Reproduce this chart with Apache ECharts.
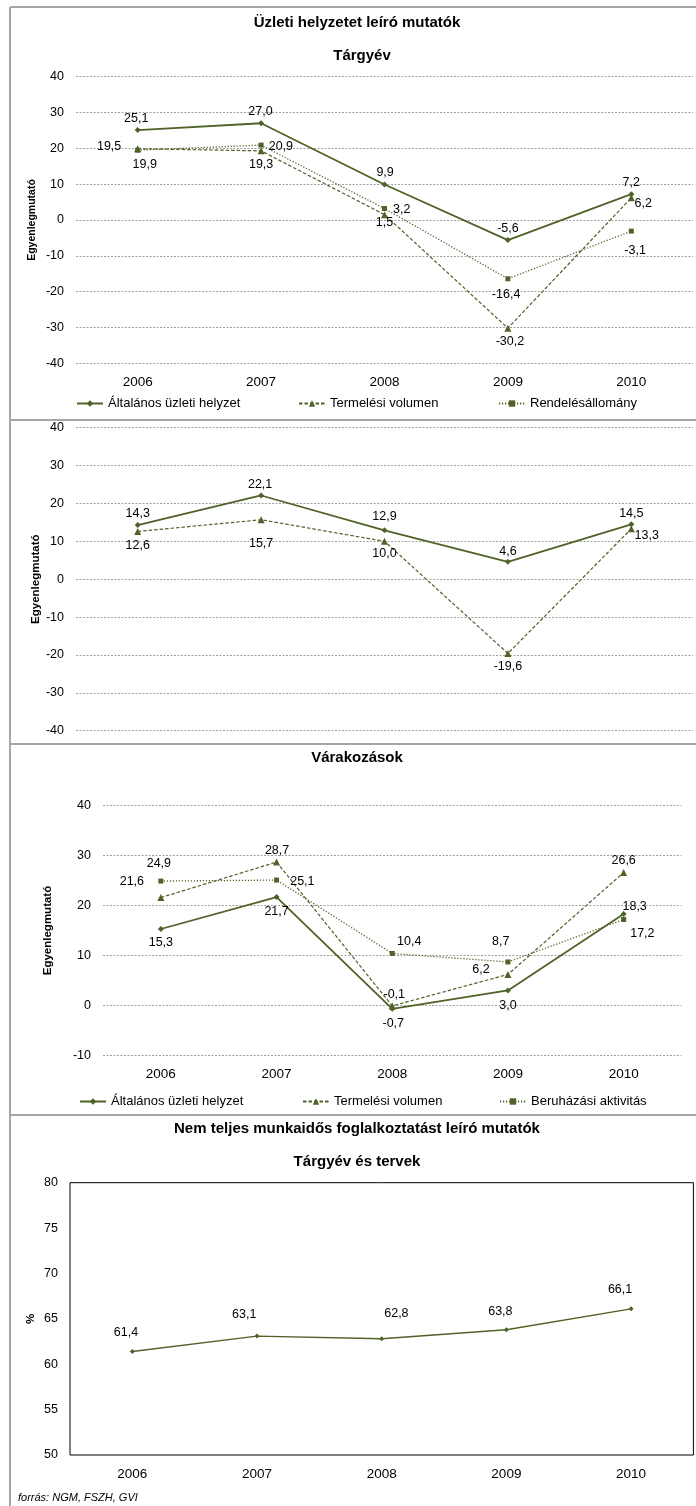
<!DOCTYPE html>
<html><head><meta charset="utf-8">
<script src="https://cdn.jsdelivr.net/npm/echarts@6/dist/echarts.min.js"></script>
<style>html,body{margin:0;padding:0;background:#fff}#c{width:696px;height:1506px}</style>
</head><body><div id="c"></div>
<script>
// ---------- data ----------
const categories = ['2006', '2007', '2008', '2009', '2010'];
const namesCurrent = ['Általános üzleti helyzet', 'Termelési volumen', 'Rendelésállomány'];
const namesExpect = ['Általános üzleti helyzet', 'Termelési volumen', 'Beruházási aktivitás'];
const shareName = 'Nem teljes munkaidős foglalkoztatás';

const currentGeneral = [25.1, 27.0, 9.9, -5.6, 7.2];
const currentProduction = [19.9, 19.3, 1.5, -30.2, 6.2];
const currentOrders = [19.5, 20.9, 3.2, -16.4, -3.1];

const secondGeneral = [14.3, 22.1, 12.9, 4.6, 14.5];
const secondProduction = [12.6, 15.7, 10.0, -19.6, 13.3];

const expectGeneral = [15.3, 21.7, -0.7, 3.0, 18.3];
const expectProduction = [21.6, 28.7, -0.1, 6.2, 26.6];
const expectInvestment = [24.9, 25.1, 10.4, 8.7, 17.2];

const partTimeShare = [61.4, 63.1, 62.8, 63.8, 66.1];

const ticksTop = [-40, -30, -20, -10, 0, 10, 20, 30, 40];
const ticksExpect = [-10, 0, 10, 20, 30, 40];
const ticksShare = [50, 55, 60, 65, 70, 75, 80];

// ---------- label placement (style, offsets from point in px) ----------
const offCurGen = [[-1.5, -12], [-0.6, -11.5], [0.6, -11.5], [0, -12], [0, -11.5]];
const offCurProd = [[7, 15.5], [0, 13.4], [0, 7.5], [2, 13.5], [12, 6]];
const offCurOrd = [[-28.6, -3.4], [19.8, 1.6], [17.3, 1.5], [-1.8, 16.2], [3.8, 19.6]];
const off2Gen = [[0, -11.6], [-1, -11.4], [0, -13.5], [0, -10], [0, -11]];
const off2Prod = [[0, 13.7], [0, 23.7], [0, 12], [0, 13], [15.4, 7]];
const offExpGen = [[0, 13.3], [0, 14.7], [1, 14.5], [0, 14.7], [11, -7.3]];
const offExpProd = [[-29, -15.8], [0.5, -12], [2, -11.8], [-27, -4.4], [0, -11.6]];
const offExpInv = [[-2, -17.8], [25.8, 1.6], [17, -11.7], [-7.2, -20.2], [18.7, 13.8]];
const offShare = [[-6.4, -18.8], [-12.8, -21.8], [14.7, -25.5], [-6, -18], [-11, -19]];

const FONT = 'Liberation Sans, Arial, sans-serif';
const GREEN = '#4f6228';
const fmt = v => v.toFixed(1).replace('.', ',');

const styles = {
  solid: { symbol: 'diamond', symbolSize: 6, lineStyle: { color: GREEN, width: 1.8, type: 'solid' } },
  dashed: { symbol: 'triangle', symbolSize: 7, lineStyle: { color: GREEN, width: 1.2, type: [3.5, 2] } },
  dotted: { symbol: 'rect', symbolSize: 5, lineStyle: { color: GREEN, width: 1.3, type: [1.2, 1.8] } },
  thin: { symbol: 'diamond', symbolSize: 5, lineStyle: { color: GREEN, width: 1.4, type: 'solid' } }
};

function makeSeries(name, values, idx, styleKey, offsets) {
  const st = styles[styleKey];
  return {
    type: 'line', name, xAxisIndex: idx, yAxisIndex: idx,
    symbol: st.symbol, symbolSize: st.symbolSize, showAllSymbol: true,
    lineStyle: st.lineStyle,
    itemStyle: { color: GREEN, borderWidth: 0 },
    emphasis: { disabled: true },
    label: {
      show: true, position: 'inside', color: '#000', fontSize: 12.5, fontFamily: FONT,
      formatter: p => fmt(p.value)
    },
    data: values.map((v, i) => ({ value: v, label: { offset: offsets[i] } })),
    z: 3
  };
}

function valueAxis(idx, ticks, name, nameGap, nameSize, showSplit) {
  return {
    gridIndex: idx, type: 'value',
    min: ticks[0], max: ticks[ticks.length - 1], interval: ticks[1] - ticks[0],
    axisLine: { show: false }, axisTick: { show: false },
    splitLine: { show: showSplit, lineStyle: { color: '#a0a0a0', width: 1, type: [2, 1.5] } },
    axisLabel: { color: '#000', fontSize: 12.5, fontFamily: FONT, margin: 12 },
    name, nameLocation: 'middle', nameGap, nameRotate: 90, nameMoveOverlap: false,
    nameTextStyle: { color: '#000', fontWeight: 'bold', fontSize: nameSize, fontFamily: FONT }
  };
}

function catAxis(idx, showLabels) {
  return {
    gridIndex: idx, type: 'category', data: categories, boundaryGap: true,
    axisLine: { show: false }, axisTick: { show: false },
    axisLabel: { show: showLabels, color: '#000', fontSize: 13.5, fontFamily: FONT, margin: 12 }
  };
}

function legendItem(name, left, top) {
  return {
    left, top, padding: 0, itemWidth: 26, itemHeight: 8, itemGap: 0,
    selectedMode: false, data: [name],
    textStyle: { color: '#000', fontSize: 13, fontFamily: FONT }
  };
}

function titleItem(text, left, top, size, extra) {
  return Object.assign({
    text, left, top, padding: 0, textAlign: 'center',
    textStyle: { color: '#000', fontWeight: 'bold', fontSize: size, fontFamily: FONT }
  }, extra || {});
}

const border = { stroke: '#a6a6a6', lineWidth: 2 };

const option = {
  animation: false,
  backgroundColor: '#fff',
  title: [
    titleItem('Üzleti helyzetet leíró mutatók', 357, 15, 15),
    titleItem('Tárgyév', 362, 48, 15),
    titleItem('Várakozások', 357, 750, 15),
    titleItem('Nem teljes munkaidős foglalkoztatást leíró mutatók', 357, 1121, 15),
    titleItem('Tárgyév és tervek', 357, 1154, 15),
    {
      text: 'forrás: NGM, FSZH, GVI', left: 18, top: 1492, padding: 0,
      textStyle: { color: '#000', fontStyle: 'italic', fontWeight: 'normal', fontSize: 11, fontFamily: FONT }
    }
  ],
  legend: [
    legendItem(namesCurrent[0], 76, 397),
    legendItem(namesCurrent[1], 298, 397),
    legendItem(namesCurrent[2], 498, 397),
    legendItem(namesExpect[0], 79, 1095),
    legendItem(namesExpect[1], 302, 1095),
    legendItem(namesExpect[2], 499, 1095)
  ],
  grid: [
    { left: 76, right: 3, top: 76.7, height: 286.6 },
    { left: 76, right: 3, top: 427.7, height: 303 },
    { left: 103, right: 14.5, top: 805.7, height: 249.6 },
    { left: 70, right: 2.6, top: 1182.7, height: 272.3, show: true, borderColor: '#000', borderWidth: 1, backgroundColor: 'transparent' }
  ],
  xAxis: [catAxis(0, true), catAxis(1, false), catAxis(2, true), catAxis(3, true)],
  yAxis: [
    valueAxis(0, ticksTop, 'Egyenlegmutató', 38, 10.5, true),
    valueAxis(1, ticksTop, 'Egyenlegmutató', 34.5, 11.5, true),
    valueAxis(2, ticksExpect, 'Egyenlegmutató', 49, 11.5, true),
    valueAxis(3, ticksShare, '%', 33, 11.5, false)
  ],
  graphic: [
    { type: 'line', shape: { x1: 10, y1: 7, x2: 10, y2: 1506 }, style: border, silent: true },
    { type: 'line', shape: { x1: 10, y1: 7, x2: 696, y2: 7 }, style: border, silent: true },
    { type: 'line', shape: { x1: 10, y1: 420, x2: 696, y2: 420 }, style: border, silent: true },
    { type: 'line', shape: { x1: 10, y1: 744, x2: 696, y2: 744 }, style: border, silent: true },
    { type: 'line', shape: { x1: 10, y1: 1115, x2: 696, y2: 1115 }, style: border, silent: true }
  ],
  series: [
    makeSeries(namesCurrent[0], currentGeneral, 0, 'solid', offCurGen),
    makeSeries(namesCurrent[1], currentProduction, 0, 'dashed', offCurProd),
    makeSeries(namesCurrent[2], currentOrders, 0, 'dotted', offCurOrd),
    makeSeries(namesCurrent[0], secondGeneral, 1, 'solid', off2Gen),
    makeSeries(namesCurrent[1], secondProduction, 1, 'dashed', off2Prod),
    makeSeries(namesExpect[0], expectGeneral, 2, 'solid', offExpGen),
    makeSeries(namesExpect[1], expectProduction, 2, 'dashed', offExpProd),
    makeSeries(namesExpect[2], expectInvestment, 2, 'dotted', offExpInv),
    makeSeries(shareName, partTimeShare, 3, 'thin', offShare)
  ]
};

const chart = echarts.init(document.getElementById('c'), null, { renderer: 'canvas' });
chart.setOption(option);
</script>
</body></html>
